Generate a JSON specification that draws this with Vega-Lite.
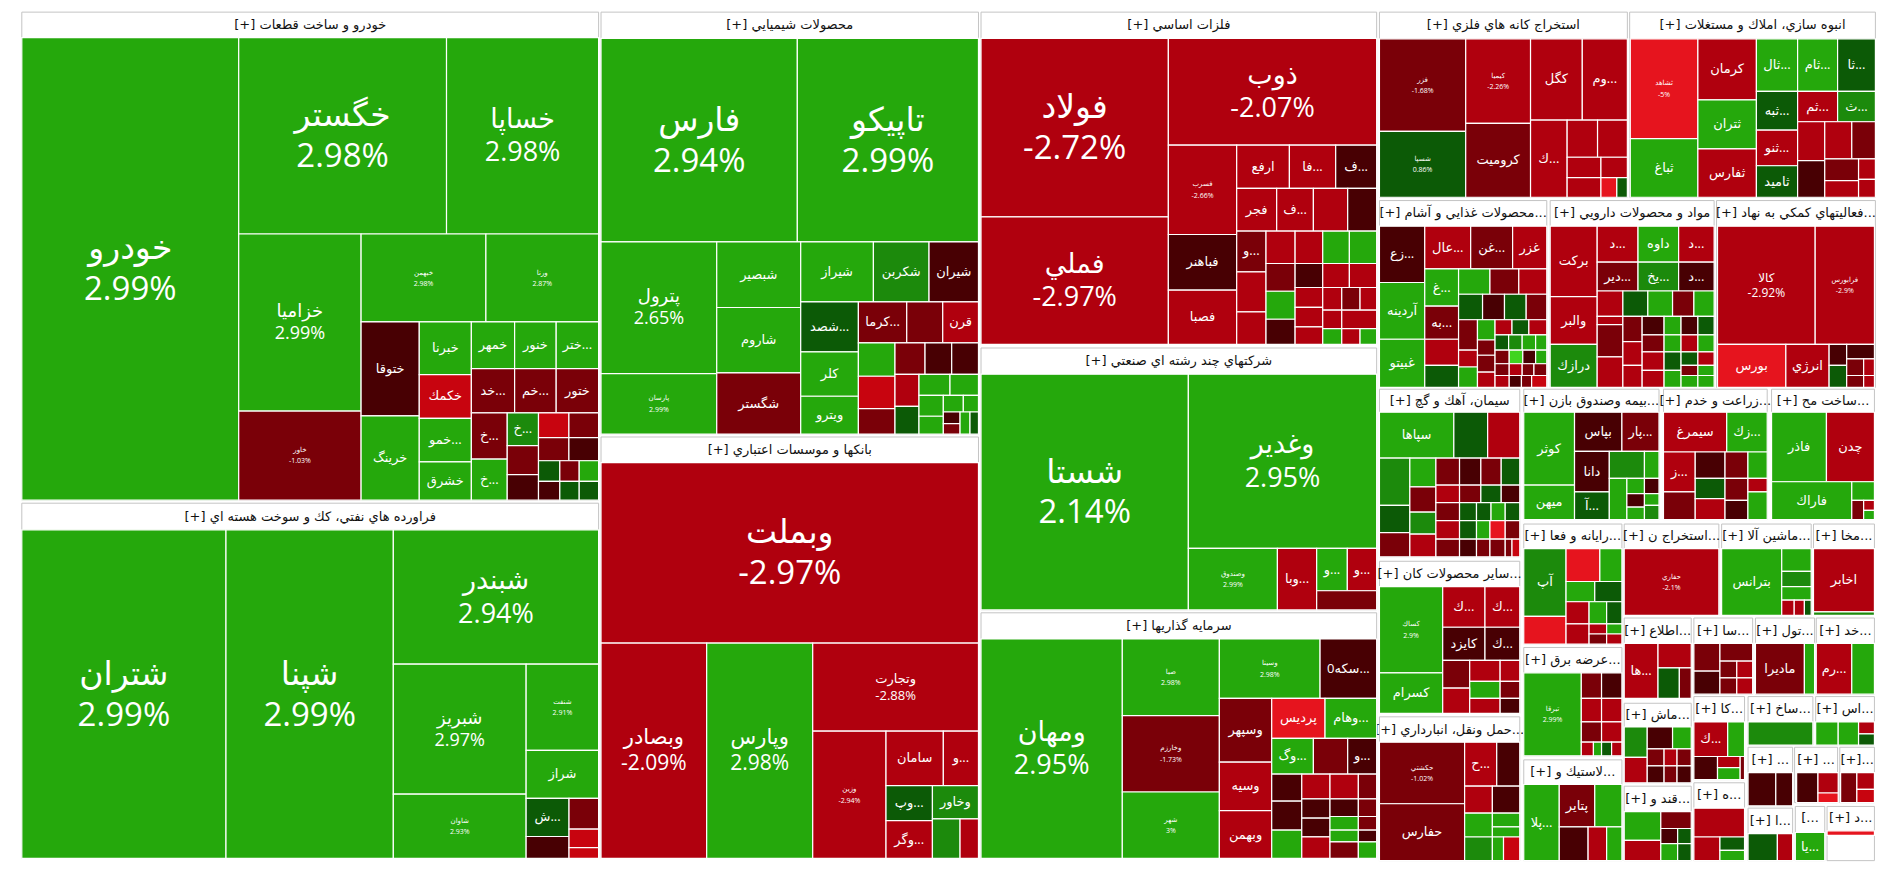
{
"$schema":"https://vega.github.io/schema/vega-lite/v6.json",
"width":1900,"height":873,"padding":0,"autosize":{"type":"none"},
"background":"white",
"config":{"view":{"stroke":null}},
"datasets":{
"sectors":[
{"x":18,"x2":494,"y":10,"yh":31,"y2":412.5,"h":"[+] خودرو و ساخت قطعات"},
{"x":18,"x2":494,"y":415,"yh":437,"y2":708,"h":"[+] فراورده هاي نفتي، كك و سوخت هسته اي"},
{"x":496,"x2":807.5,"y":10,"yh":31.6,"y2":358,"h":"[+] محصولات شيميايي"},
{"x":496,"x2":807.5,"y":360.4,"yh":381.6,"y2":708,"h":"[+] بانكها و موسسات اعتباري"},
{"x":809.6,"x2":1136.1,"y":10,"yh":31.6,"y2":284,"h":"[+] فلزات اساسي"},
{"x":809.6,"x2":1136.1,"y":287,"yh":308.6,"y2":503,"h":"[+] شركتهاي چند رشته اي صنعتي"},
{"x":809.6,"x2":1136.1,"y":505.4,"yh":527,"y2":708,"h":"[+] سرمايه گذاريها"},
{"x":1138.4,"x2":1343,"y":10,"yh":32,"y2":162.7,"h":"[+] استخراج كانه هاي فلزي"},
{"x":1344.9,"x2":1547.7,"y":10,"yh":32,"y2":162.7,"h":"[+] انبوه سازي، املاك و مستغلات"},
{"x":1138.4,"x2":1276.5,"y":165.4,"yh":186.5,"y2":319.5,"h":"[+] محصولات غذايي و آشام..."},
{"x":1279.3,"x2":1414.6,"y":165.4,"yh":186.5,"y2":319.5,"h":"[+] مواد و محصولات دارويي"},
{"x":1416.6,"x2":1547.7,"y":165.4,"yh":186.5,"y2":319.5,"h":"[+] فعاليتهاي كمكي به نهاد..."},
{"x":1138.4,"x2":1254.2,"y":321,"yh":340,"y2":459.2,"h":"[+] سيمان، آهك و گچ"},
{"x":1257.5,"x2":1369.1,"y":321,"yh":340,"y2":428.5,"h":"[+] بيمه وصندوق بازن..."},
{"x":1372.8,"x2":1458.4,"y":321,"yh":340,"y2":428.5,"h":"[+] زراعت و خدم..."},
{"x":1462,"x2":1546.9,"y":321,"yh":340,"y2":428.5,"h":"[+] ساخت مح..."},
{"x":1257.5,"x2":1338.5,"y":432.2,"yh":452.5,"y2":531.2,"h":"[+] رايانه و فعا..."},
{"x":1340.4,"x2":1418.5,"y":432.2,"yh":452.5,"y2":507.5,"h":"[+] استخراج ن..."},
{"x":1420.8,"x2":1494.7,"y":432.2,"yh":452.5,"y2":507.5,"h":"[+] ماشين آلا..."},
{"x":1496.6,"x2":1546.9,"y":432.2,"yh":452.5,"y2":507.5,"h":"[+] مخا..."},
{"x":1138.4,"x2":1254.2,"y":462.9,"yh":483.8,"y2":588.4,"h":"[+] ساير محصولات كان..."},
{"x":1138.4,"x2":1254.2,"y":591.2,"yh":612.1,"y2":709.8,"h":"[+] حمل ونقل، انبارداري..."},
{"x":1257.5,"x2":1338.5,"y":534,"yh":554.9,"y2":623.3,"h":"[+] عرضه برق..."},
{"x":1257.5,"x2":1338.5,"y":626.7,"yh":647,"y2":709.8,"h":"[+] لاستيك و..."},
{"x":1340.4,"x2":1395.7,"y":509.7,"yh":530.7,"y2":576,"h":"[+] اطلاع..."},
{"x":1340.4,"x2":1395.7,"y":580,"yh":599.6,"y2":645.6,"h":"[+] ماش..."},
{"x":1340.4,"x2":1395.7,"y":648.4,"yh":669.3,"y2":709.8,"h":"[+] قند و..."},
{"x":1397.9,"x2":1446.4,"y":509.7,"yh":530.7,"y2":572.5,"h":"[+] سا..."},
{"x":1448.7,"x2":1497.5,"y":509.7,"yh":530.7,"y2":572.5,"h":"[+] تول..."},
{"x":1498.9,"x2":1546.9,"y":509.7,"yh":530.7,"y2":572.5,"h":"[+] خد..."},
{"x":1397.9,"x2":1439.7,"y":574.5,"yh":595.4,"y2":643,"h":"[+] كا..."},
{"x":1442.6,"x2":1496.1,"y":574.5,"yh":595.4,"y2":614.5,"h":"[+] ساخ..."},
{"x":1498.4,"x2":1546.9,"y":574.5,"yh":595.4,"y2":614.5,"h":"[+] اس..."},
{"x":1397.9,"x2":1439.7,"y":645.6,"yh":666.5,"y2":709.8,"h":"[+] ه..."},
{"x":1442.6,"x2":1479.4,"y":616.3,"yh":637.2,"y2":664.6,"h":"[+] ..."},
{"x":1481,"x2":1516.5,"y":616.3,"yh":637.2,"y2":662,"h":"[+] ..."},
{"x":1518.3,"x2":1546.9,"y":616.3,"yh":637.2,"y2":662,"h":"[+]..."},
{"x":1442.6,"x2":1479.4,"y":666.5,"yh":687.5,"y2":709.8,"h":"[+] ا..."},
{"x":1481.6,"x2":1505.9,"y":665.1,"yh":684.7,"y2":709.8,"h":"[..."},
{"x":1507.8,"x2":1546.9,"y":665.1,"yh":684.7,"y2":709.8,"h":"[+] د..."}
],
"cells":[
{"x":18,"x2":197,"y":31,"y2":412.5,"c":2.99,"s":"خودرو","t":1,"p":1},
{"x":197,"x2":368.5,"y":31,"y2":193,"c":2.98,"s":"خگستر","t":1,"p":1},
{"x":368.5,"x2":494,"y":31,"y2":193,"c":2.98,"s":"خساپا","t":2,"p":1},
{"x":197,"x2":298,"y":193,"y2":339,"c":2.99,"s":"خزاميا","t":4,"p":1},
{"x":197,"x2":298,"y":339,"y2":412.5,"c":-1.03,"s":"خاور","t":6,"p":1},
{"x":298,"x2":401,"y":193,"y2":265.5,"c":2.98,"s":"خبهمن","t":6,"p":1},
{"x":401,"x2":494,"y":193,"y2":265.5,"c":2.87,"s":"ورنا","t":6,"p":1},
{"x":298,"x2":346,"y":265.5,"y2":343,"c":-0.4,"s":"ختوقا","t":5},
{"x":298,"x2":346,"y":343,"y2":412.5,"c":2.9,"s":"خرينگ","t":5},
{"x":346,"x2":389,"y":265.5,"y2":309,"c":2.9,"s":"خبرنا","t":5},
{"x":389,"x2":424.7,"y":265.5,"y2":304,"c":2.9,"s":"خمهر","t":5},
{"x":424.7,"x2":459,"y":265.5,"y2":304,"c":2.9,"s":"خنور","t":5},
{"x":459,"x2":494,"y":265.5,"y2":304,"c":2.9,"s":"ختر...","t":5},
{"x":346,"x2":389,"y":309,"y2":345,"c":-3.8,"s":"خكمك","t":5},
{"x":389,"x2":424.7,"y":304,"y2":340.5,"c":-1.5,"s":"خد...","t":5},
{"x":424.7,"x2":459,"y":304,"y2":340.5,"c":-1.5,"s":"خم...","t":5},
{"x":459,"x2":494,"y":304,"y2":340.5,"c":-1.6,"s":"ختور","t":5},
{"x":346,"x2":389,"y":345,"y2":381,"c":2.9,"s":"خمو...","t":5},
{"x":346,"x2":389,"y":381,"y2":412.5,"c":2.9,"s":"خشرق","t":5},
{"x":389,"x2":418.6,"y":340.5,"y2":378.6,"c":-1.4,"s":"خ...","t":5},
{"x":389,"x2":418.6,"y":378.6,"y2":412.5,"c":2.9,"s":"خ...","t":5},
{"x":418.6,"x2":444.4,"y":340.5,"y2":367.5,"c":1.5,"s":"خ...","t":5},
{"x":444.4,"x2":469.5,"y":340.5,"y2":361,"c":-3.8},
{"x":469.5,"x2":494,"y":340.5,"y2":361,"c":-1.7},
{"x":418.6,"x2":444.4,"y":367.5,"y2":391.5,"c":-1.6},
{"x":418.6,"x2":444.4,"y":391.5,"y2":412.5,"c":-0.4},
{"x":444.4,"x2":469.5,"y":361,"y2":380,"c":-1.5},
{"x":469.5,"x2":494,"y":361,"y2":380,"c":-0.4},
{"x":444.4,"x2":462,"y":380,"y2":397,"c":0.6},
{"x":462,"x2":478,"y":380,"y2":397,"c":-1.6},
{"x":478,"x2":494,"y":380,"y2":397,"c":2.9},
{"x":444.4,"x2":462,"y":397,"y2":412.5,"c":-0.4},
{"x":462,"x2":478,"y":397,"y2":412.5,"c":0.6},
{"x":478,"x2":494,"y":397,"y2":412.5,"c":0.6},

{"x":18,"x2":186.5,"y":437,"y2":708,"c":2.99,"s":"شتران","t":1,"p":1},
{"x":186.5,"x2":324.6,"y":437,"y2":708,"c":2.99,"s":"شپنا","t":1,"p":1},
{"x":324.6,"x2":494,"y":437,"y2":547.8,"c":2.94,"s":"شبندر","t":2,"p":1},
{"x":324.6,"x2":434.2,"y":547.8,"y2":655,"c":2.97,"s":"شبريز","t":4,"p":1},
{"x":324.6,"x2":434.2,"y":655,"y2":708,"c":2.93,"s":"شاوان","t":6,"p":1},
{"x":434.2,"x2":494,"y":547.8,"y2":618.9,"c":2.91,"s":"شنفت","t":6,"p":1},
{"x":434.2,"x2":494,"y":618.9,"y2":658.4,"c":2.9,"s":"شراز","t":5},
{"x":434.2,"x2":469.6,"y":658.4,"y2":689.9,"c":0.6,"s":"ش...","t":5},
{"x":469.6,"x2":494,"y":658.4,"y2":683.8,"c":-1.5},
{"x":434.2,"x2":469.6,"y":689.9,"y2":708,"c":-0.4},
{"x":469.6,"x2":494,"y":683.8,"y2":699,"c":-3.8},
{"x":469.6,"x2":494,"y":699,"y2":708,"c":-3.8},

{"x":496,"x2":658,"y":31.6,"y2":199.5,"c":2.94,"s":"فارس","t":1,"p":1},
{"x":658,"x2":807.5,"y":31.6,"y2":199.5,"c":2.99,"s":"تاپيكو","t":1,"p":1},
{"x":496,"x2":591.5,"y":199.5,"y2":308.1,"c":2.65,"s":"پترول","t":4,"p":1},
{"x":496,"x2":591.5,"y":308.1,"y2":358,"c":2.99,"s":"پارسان","t":6,"p":1},
{"x":591.5,"x2":660.8,"y":199.5,"y2":253.6,"c":2.9,"s":"شبصير","t":5},
{"x":591.5,"x2":660.8,"y":253.6,"y2":307.6,"c":2.9,"s":"شاروم","t":5},
{"x":591.5,"x2":660.8,"y":307.6,"y2":358,"c":-1.5,"s":"شگستر","t":5},
{"x":660.8,"x2":720.8,"y":199.5,"y2":249,"c":2.9,"s":"شيراز","t":5},
{"x":720.8,"x2":766.7,"y":199.5,"y2":249,"c":1.5,"s":"شكربن","t":5},
{"x":766.7,"x2":807.5,"y":199.5,"y2":249,"c":-0.5,"s":"شيران","t":5},
{"x":660.8,"x2":708.4,"y":249,"y2":290.2,"c":0.6,"s":"شصد...","t":5},
{"x":660.8,"x2":708.4,"y":290.2,"y2":326.8,"c":2.9,"s":"كلر","t":5},
{"x":660.8,"x2":708.4,"y":326.8,"y2":358,"c":2.9,"s":"ويترو","t":5},
{"x":708.4,"x2":748.3,"y":249,"y2":282.8,"c":-1.4,"s":"كرما...","t":5},
{"x":748.3,"x2":778,"y":249,"y2":282.8,"c":-1.6},
{"x":778,"x2":807.5,"y":249,"y2":282.8,"c":-3,"s":"قرن","t":5},
{"x":708.4,"x2":738.6,"y":282.8,"y2":310.3,"c":2.9},
{"x":708.4,"x2":738.6,"y":310.3,"y2":337,"c":-3.8},
{"x":708.4,"x2":738.6,"y":337,"y2":358,"c":-1.5},
{"x":738.6,"x2":763.4,"y":282.8,"y2":308.7,"c":-1.5},
{"x":738.6,"x2":758.4,"y":308.7,"y2":335.1,"c":-2.9},
{"x":738.6,"x2":758.4,"y":335.1,"y2":358,"c":0.6},
{"x":763.4,"x2":785.4,"y":282.8,"y2":308.7,"c":-0.5},
{"x":785.4,"x2":807.5,"y":282.8,"y2":308.7,"c":-0.5},
{"x":758.4,"x2":784,"y":308.7,"y2":326,"c":2.9},
{"x":784,"x2":807.5,"y":308.7,"y2":326,"c":2.9},
{"x":758.4,"x2":778.5,"y":326,"y2":343.3,"c":2.9},
{"x":778.5,"x2":795,"y":326,"y2":339.8,"c":2.9},
{"x":795,"x2":807.5,"y":326,"y2":339.8,"c":2.9},
{"x":758.4,"x2":778.5,"y":343.3,"y2":358,"c":2.9},
{"x":778.5,"x2":792.3,"y":339.8,"y2":349.4,"c":-0.5},
{"x":778.5,"x2":792.3,"y":349.4,"y2":358,"c":-1.5},
{"x":792.3,"x2":800.5,"y":339.8,"y2":358,"c":2.9},
{"x":800.5,"x2":807.5,"y":339.8,"y2":358,"c":0.6},

{"x":496,"x2":807.5,"y":381.6,"y2":530.4,"c":-2.97,"s":"وبملت","t":1,"p":1},
{"x":496,"x2":583.2,"y":530.4,"y2":708,"c":-2.09,"s":"وبصادر","t":3,"p":1},
{"x":583.2,"x2":670.7,"y":530.4,"y2":708,"c":2.98,"s":"وپارس","t":3,"p":1},
{"x":670.7,"x2":807.5,"y":530.4,"y2":603,"c":-2.88,"s":"وتجارت","t":5,"p":1},
{"x":670.7,"x2":731.2,"y":603,"y2":708,"c":-2.94,"s":"وزين","t":6,"p":1},
{"x":731.2,"x2":778.5,"y":603,"y2":647.9,"c":-2.9,"s":"سامان","t":5},
{"x":778.5,"x2":807.5,"y":603,"y2":647.9,"c":-2.9,"s":"و...","t":5},
{"x":731.2,"x2":769.5,"y":647.9,"y2":676.8,"c":0.6,"s":"وپ...","t":5},
{"x":769.5,"x2":807.5,"y":647.9,"y2":675.4,"c":1.5,"s":"وخاور","t":5},
{"x":731.2,"x2":769.5,"y":676.8,"y2":708,"c":-2.9,"s":"وگر...","t":5},
{"x":769.5,"x2":792.3,"y":675.4,"y2":708,"c":1.5},
{"x":792.3,"x2":807.5,"y":675.4,"y2":708,"c":-2.9},

{"x":809.6,"x2":964.2,"y":31.6,"y2":178.8,"c":-2.72,"s":"فولاد","t":1,"p":1},
{"x":809.6,"x2":964.2,"y":178.8,"y2":284,"c":-2.97,"s":"فملي","t":2,"p":1},
{"x":964.2,"x2":1136.1,"y":31.6,"y2":119.7,"c":-2.07,"s":"ذوب","t":2,"p":1},
{"x":964.2,"x2":1020.6,"y":119.7,"y2":193.4,"c":-2.66,"s":"فسرب","t":6,"p":1},
{"x":964.2,"x2":1020.6,"y":193.4,"y2":239.3,"c":-0.5,"s":"فباهنر","t":5},
{"x":964.2,"x2":1020.6,"y":239.3,"y2":284,"c":-2.9,"s":"فصبا","t":5},
{"x":1020.6,"x2":1064.1,"y":119.7,"y2":155.4,"c":-2.9,"s":"ارفع","t":5},
{"x":1064.1,"x2":1102.3,"y":119.7,"y2":155.4,"c":-2.9,"s":"فا...","t":5},
{"x":1102.3,"x2":1136.1,"y":119.7,"y2":155.4,"c":-0.5,"s":"ف...","t":5},
{"x":1020.6,"x2":1053.6,"y":155.4,"y2":190.6,"c":-2.9,"s":"فجر","t":5},
{"x":1053.6,"x2":1083.9,"y":155.4,"y2":190.6,"c":-2.9,"s":"ف...","t":5},
{"x":1083.9,"x2":1112.2,"y":155.4,"y2":190.6,"c":-2.9},
{"x":1112.2,"x2":1136.1,"y":155.4,"y2":190.6,"c":-0.5},
{"x":1020.6,"x2":1044.8,"y":190.6,"y2":224.2,"c":-1.4,"s":"و...","t":5},
{"x":1020.6,"x2":1044.8,"y":224.2,"y2":257.2,"c":-2.9},
{"x":1020.6,"x2":1044.8,"y":257.2,"y2":284,"c":-2.9},
{"x":1044.8,"x2":1068.8,"y":190.6,"y2":217.3,"c":-2.9},
{"x":1044.8,"x2":1068.8,"y":217.3,"y2":240.2,"c":-1.5},
{"x":1044.8,"x2":1068.8,"y":240.2,"y2":263.3,"c":2.9},
{"x":1044.8,"x2":1068.8,"y":263.3,"y2":284,"c":-0.5},
{"x":1068.8,"x2":1091.6,"y":190.6,"y2":217.3,"c":-2.9},
{"x":1068.8,"x2":1091.6,"y":217.3,"y2":237.1,"c":-0.5},
{"x":1068.8,"x2":1091.6,"y":237.1,"y2":253.5,"c":-2.9},
{"x":1068.8,"x2":1091.6,"y":253.5,"y2":269.6,"c":-2.9},
{"x":1068.8,"x2":1091.6,"y":269.6,"y2":284,"c":-2.9},
{"x":1091.6,"x2":1113.6,"y":190.6,"y2":217.3,"c":2.9},
{"x":1113.6,"x2":1136.1,"y":190.6,"y2":217.3,"c":2.9},
{"x":1091.6,"x2":1113.6,"y":217.3,"y2":237.1,"c":-2.9},
{"x":1113.6,"x2":1136.1,"y":217.3,"y2":237.1,"c":-2.9},
{"x":1091.6,"x2":1107.3,"y":237.1,"y2":255.8,"c":-2.9},
{"x":1107.3,"x2":1122.4,"y":237.1,"y2":255.8,"c":-1.5},
{"x":1122.4,"x2":1136.1,"y":237.1,"y2":255.8,"c":-2.9},
{"x":1091.6,"x2":1107.3,"y":255.8,"y2":271,"c":-2.9},
{"x":1107.3,"x2":1136.1,"y":255.8,"y2":271,"c":-2.9},
{"x":1091.6,"x2":1107.3,"y":271,"y2":284,"c":2.9},
{"x":1107.3,"x2":1122.4,"y":271,"y2":284,"c":-2.9},
{"x":1122.4,"x2":1136.1,"y":271,"y2":284,"c":2.9},

{"x":809.6,"x2":980.7,"y":308.6,"y2":503,"c":2.14,"s":"شستا","t":1,"p":1},
{"x":980.7,"x2":1136.1,"y":308.6,"y2":452.2,"c":2.95,"s":"وغدير","t":2,"p":1},
{"x":980.7,"x2":1054.2,"y":452.2,"y2":503,"c":2.99,"s":"وصندوق","t":6,"p":1},
{"x":1054.2,"x2":1086.6,"y":452.2,"y2":503,"c":-3,"s":"وبا...","t":5},
{"x":1086.6,"x2":1111.9,"y":452.2,"y2":487.2,"c":2.9,"s":"و...","t":5},
{"x":1111.9,"x2":1136.1,"y":452.2,"y2":487.2,"c":-2.9,"s":"و...","t":5},
{"x":1086.6,"x2":1136.1,"y":487.2,"y2":503,"c":-1.5},

{"x":809.6,"x2":926.2,"y":527,"y2":708,"c":2.95,"s":"ومهان","t":2,"p":1},
{"x":926.2,"x2":1006.3,"y":527,"y2":590.2,"c":2.98,"s":"صبا","t":6,"p":1},
{"x":926.2,"x2":1006.3,"y":590.2,"y2":653.2,"c":-1.73,"s":"وخارزم","t":6,"p":1},
{"x":926.2,"x2":1006.3,"y":653.2,"y2":708,"c":3,"s":"شهر","t":6,"p":1},
{"x":1006.3,"x2":1089.4,"y":527,"y2":576,"c":2.98,"s":"وسينا","t":6,"p":1},
{"x":1089.4,"x2":1136.1,"y":527,"y2":576,"c":-0.5,"s":"سكه0...","t":5},
{"x":1006.3,"x2":1049.5,"y":576,"y2":628.6,"c":-1.5,"s":"وسپهر","t":5},
{"x":1006.3,"x2":1049.5,"y":628.6,"y2":668.6,"c":-2.9,"s":"وسيه","t":5},
{"x":1006.3,"x2":1049.5,"y":668.6,"y2":708,"c":-2.9,"s":"وبهمن","t":5},
{"x":1049.5,"x2":1093.5,"y":576,"y2":609,"c":-4.8,"s":"پرديس","t":5},
{"x":1093.5,"x2":1136.1,"y":576,"y2":609,"c":2.9,"s":"وهام...","t":5},
{"x":1049.5,"x2":1083.9,"y":609,"y2":638.4,"c":2.9,"s":"وگ...","t":5},
{"x":1083.9,"x2":1112.2,"y":609,"y2":638.4,"c":-1.5},
{"x":1112.2,"x2":1136.1,"y":609,"y2":638.4,"c":-0.5,"s":"و...","t":5},
{"x":1049.5,"x2":1074.3,"y":638.4,"y2":660.8,"c":-0.5},
{"x":1049.5,"x2":1074.3,"y":660.8,"y2":684.6,"c":-0.5},
{"x":1049.5,"x2":1074.3,"y":684.6,"y2":708,"c":2.9},
{"x":1074.3,"x2":1097.6,"y":638.4,"y2":658.8,"c":-2.9},
{"x":1074.3,"x2":1097.6,"y":658.8,"y2":674.8,"c":-0.5},
{"x":1074.3,"x2":1097.6,"y":674.8,"y2":690.2,"c":-0.7},
{"x":1074.3,"x2":1097.6,"y":690.2,"y2":708,"c":-2.9},
{"x":1097.6,"x2":1121,"y":638.4,"y2":658.8,"c":-2.9},
{"x":1097.6,"x2":1121,"y":658.8,"y2":673.4,"c":-0.5},
{"x":1097.6,"x2":1121,"y":673.4,"y2":684.6,"c":2.9},
{"x":1097.6,"x2":1121,"y":684.6,"y2":694.4,"c":2.9},
{"x":1097.6,"x2":1121,"y":694.4,"y2":708,"c":-1.5},
{"x":1121,"x2":1136.1,"y":638.4,"y2":658.8,"c":-1.5},
{"x":1121,"x2":1136.1,"y":658.8,"y2":673.4,"c":-1.5},
{"x":1121,"x2":1136.1,"y":673.4,"y2":684.6,"c":-1.5},
{"x":1121,"x2":1136.1,"y":684.6,"y2":694.4,"c":-0.5},
{"x":1121,"x2":1136.1,"y":694.4,"y2":708,"c":2.9},

{"x":1138.4,"x2":1209.6,"y":32,"y2":108.3,"c":-1.68,"s":"فزر","t":6,"p":1},
{"x":1138.4,"x2":1209.6,"y":108.3,"y2":162.7,"c":0.86,"s":"شسپا","t":6,"p":1},
{"x":1209.6,"x2":1263.1,"y":32,"y2":101.8,"c":-2.26,"s":"كيميا","t":6,"p":1},
{"x":1263.1,"x2":1305.8,"y":32,"y2":99,"c":-2.9,"s":"كگل","t":5},
{"x":1305.8,"x2":1343,"y":32,"y2":99,"c":-2.9,"s":"وم...","t":5},
{"x":1209.6,"x2":1263.1,"y":101.8,"y2":162.7,"c":-1.5,"s":"كروميت","t":5},
{"x":1263.1,"x2":1293.3,"y":99,"y2":162.7,"c":-2.9,"s":"ك...","t":5},
{"x":1293.3,"x2":1318.4,"y":99,"y2":129.7,"c":-2.9},
{"x":1318.4,"x2":1343,"y":99,"y2":129.7,"c":-2.9},
{"x":1293.3,"x2":1321.2,"y":129.7,"y2":146.5,"c":-2.9},
{"x":1321.2,"x2":1343,"y":129.7,"y2":146.5,"c":-2.9},
{"x":1293.3,"x2":1321.2,"y":146.5,"y2":162.7,"c":-2.9},
{"x":1321.2,"x2":1334.3,"y":146.5,"y2":162.7,"c":-4.8},
{"x":1334.3,"x2":1343,"y":146.5,"y2":162.7,"c":0.6},

{"x":1345.4,"x2":1401.2,"y":32,"y2":114.4,"c":-5,"s":"ثشاهد","t":6,"p":1},
{"x":1345.4,"x2":1401.2,"y":114.4,"y2":162.7,"c":3.2,"s":"ثباغ","t":5},
{"x":1401.2,"x2":1449.5,"y":32,"y2":82.3,"c":-2.9,"s":"كرمان","t":5},
{"x":1401.2,"x2":1449.5,"y":82.3,"y2":122.8,"c":3.2,"s":"ثتران","t":5},
{"x":1401.2,"x2":1449.5,"y":122.8,"y2":162.7,"c":-2.9,"s":"ثفارس","t":5},
{"x":1449.5,"x2":1483.5,"y":32,"y2":75.3,"c":3.3,"s":"ثال...","t":5},
{"x":1483.5,"x2":1516.5,"y":32,"y2":75.3,"c":3.3,"s":"ثام...","t":5},
{"x":1516.5,"x2":1547.7,"y":32,"y2":75.3,"c":0.6,"s":"ثا...","t":5},
{"x":1449.5,"x2":1483.5,"y":75.3,"y2":107.4,"c":0.6,"s":"ثبه...","t":5},
{"x":1449.5,"x2":1483.5,"y":107.4,"y2":136.7,"c":-2.9,"s":"ثنو...","t":5},
{"x":1449.5,"x2":1483.5,"y":136.7,"y2":162.7,"c":0.6,"s":"ثاميد","t":5},
{"x":1483.5,"x2":1516.5,"y":75.3,"y2":100.4,"c":-2.9,"s":"ثم...","t":5},
{"x":1516.5,"x2":1547.7,"y":75.3,"y2":100.4,"c":1.5,"s":"ث...","t":5},
{"x":1483.5,"x2":1505.9,"y":100.4,"y2":132.5,"c":-2.9},
{"x":1505.9,"x2":1528.2,"y":100.4,"y2":131,"c":-2.9},
{"x":1528.2,"x2":1547.7,"y":100.4,"y2":131,"c":-1.5},
{"x":1483.5,"x2":1505.9,"y":132.5,"y2":162.7,"c":-0.5},
{"x":1505.9,"x2":1533.8,"y":131,"y2":149,"c":-1.5},
{"x":1533.8,"x2":1547.7,"y":131,"y2":148,"c":-2.9},
{"x":1505.9,"x2":1533.8,"y":149,"y2":162.7,"c":-2.9},
{"x":1533.8,"x2":1547.7,"y":148,"y2":162.7,"c":-2.9},

{"x":1138.4,"x2":1175.8,"y":186.5,"y2":233,"c":-0.5,"s":"زع...","t":5},
{"x":1138.4,"x2":1175.8,"y":233,"y2":279.8,"c":2.9,"s":"آردينه","t":5},
{"x":1138.4,"x2":1175.8,"y":279.8,"y2":319.5,"c":2.9,"s":"غبيتو","t":5},
{"x":1175.8,"x2":1213.7,"y":186.5,"y2":221.8,"c":-2.9,"s":"عال...","t":5},
{"x":1213.7,"x2":1248.3,"y":186.5,"y2":221.8,"c":-1.5,"s":"غن...","t":5},
{"x":1248.3,"x2":1276.5,"y":186.5,"y2":221.8,"c":-2.9,"s":"غزر","t":5},
{"x":1175.8,"x2":1203.7,"y":221.8,"y2":252.5,"c":2.9,"s":"غ...","t":5},
{"x":1175.8,"x2":1203.7,"y":252.5,"y2":279.8,"c":-1.5,"s":"به...","t":5},
{"x":1175.8,"x2":1203.7,"y":279.8,"y2":301.3,"c":-2.9},
{"x":1175.8,"x2":1203.7,"y":301.3,"y2":319.5,"c":0.6},
{"x":1203.7,"x2":1229.6,"y":221.8,"y2":242.7,"c":2.9},
{"x":1229.6,"x2":1253.4,"y":221.8,"y2":242.7,"c":-1.5},
{"x":1253.4,"x2":1276.5,"y":221.8,"y2":242.7,"c":-2.9},
{"x":1203.7,"x2":1223.5,"y":242.7,"y2":263.7,"c":0.6},
{"x":1223.5,"x2":1241.6,"y":242.7,"y2":263.7,"c":-0.5},
{"x":1241.6,"x2":1259.5,"y":242.7,"y2":263.7,"c":0.6},
{"x":1259.5,"x2":1276.5,"y":242.7,"y2":263.7,"c":-1.5},
{"x":1203.7,"x2":1219.3,"y":263.7,"y2":288.8,"c":-1.5},
{"x":1203.7,"x2":1219.3,"y":288.8,"y2":302.7,"c":-2.9},
{"x":1203.7,"x2":1219.3,"y":302.7,"y2":319.5,"c":2.9},
{"x":1219.3,"x2":1233.8,"y":263.7,"y2":280.4,"c":2.9},
{"x":1219.3,"x2":1233.8,"y":280.4,"y2":293,"c":-1.5},
{"x":1219.3,"x2":1233.8,"y":293,"y2":306.9,"c":-1.5},
{"x":1219.3,"x2":1233.8,"y":306.9,"y2":319.5,"c":-2.9},
{"x":1233.8,"x2":1247.8,"y":263.7,"y2":276.2,"c":-2.9},
{"x":1247.8,"x2":1261.7,"y":263.7,"y2":276.2,"c":0.6},
{"x":1261.7,"x2":1276.5,"y":263.7,"y2":276.2,"c":-2.9},
{"x":1233.8,"x2":1245,"y":276.2,"y2":288.8,"c":0.6},
{"x":1245,"x2":1256.2,"y":276.2,"y2":288.8,"c":1.5},
{"x":1256.2,"x2":1267.3,"y":276.2,"y2":288.8,"c":2.9},
{"x":1267.3,"x2":1276.5,"y":276.2,"y2":288.8,"c":2.9},
{"x":1233.8,"x2":1245.5,"y":288.8,"y2":300,"c":-1.5},
{"x":1245.5,"x2":1256.7,"y":288.8,"y2":300,"c":4.8},
{"x":1256.7,"x2":1267.3,"y":288.8,"y2":300,"c":-0.5},
{"x":1267.3,"x2":1276.5,"y":288.8,"y2":300,"c":2.9},
{"x":1233.8,"x2":1245.5,"y":300,"y2":309.7,"c":-1.5},
{"x":1245.5,"x2":1256.2,"y":300,"y2":309.7,"c":-2.9},
{"x":1256.2,"x2":1265.9,"y":300,"y2":309.7,"c":-1.5},
{"x":1265.9,"x2":1276.5,"y":300,"y2":309.7,"c":-1.5},
{"x":1233.8,"x2":1245.5,"y":309.7,"y2":319.5,"c":-2.9},
{"x":1245.5,"x2":1255.6,"y":309.7,"y2":319.5,"c":-0.5},
{"x":1255.6,"x2":1264,"y":309.7,"y2":319.5,"c":-1.5},
{"x":1264,"x2":1276.5,"y":309.7,"y2":319.5,"c":-3.8},

{"x":1279.3,"x2":1318.1,"y":186.5,"y2":244.7,"c":-2.9,"s":"بركت","t":5},
{"x":1279.3,"x2":1318.1,"y":244.7,"y2":284,"c":-2.9,"s":"والبر","t":5},
{"x":1279.3,"x2":1318.1,"y":284,"y2":319.5,"c":1.5,"s":"درازك","t":5},
{"x":1318.1,"x2":1351.8,"y":186.5,"y2":216.2,"c":-2.9,"s":"د...","t":5},
{"x":1351.8,"x2":1385.3,"y":186.5,"y2":216.2,"c":2.9,"s":"داوه","t":5},
{"x":1385.3,"x2":1414.6,"y":186.5,"y2":216.2,"c":-2.9,"s":"د...","t":5},
{"x":1318.1,"x2":1351.8,"y":216.2,"y2":240,"c":-1.5,"s":"دير...","t":5},
{"x":1351.8,"x2":1385.3,"y":216.2,"y2":240,"c":1.5,"s":"يخ...","t":5},
{"x":1385.3,"x2":1414.6,"y":216.2,"y2":240,"c":-0.5,"s":"د...","t":5},
{"x":1318.1,"x2":1339.3,"y":240,"y2":260.9,"c":-2.9},
{"x":1339.3,"x2":1359.9,"y":240,"y2":260.9,"c":0.6},
{"x":1359.9,"x2":1380.3,"y":240,"y2":260.9,"c":2.9},
{"x":1380.3,"x2":1397.9,"y":240,"y2":260.9,"c":-1.5},
{"x":1397.9,"x2":1414.6,"y":240,"y2":260.9,"c":2.9},
{"x":1318.1,"x2":1339.3,"y":260.9,"y2":267.8,"c":-2.9},
{"x":1318.1,"x2":1339.3,"y":267.8,"y2":294.3,"c":-1.5},
{"x":1318.1,"x2":1339.3,"y":294.3,"y2":319.5,"c":-2.9},
{"x":1339.3,"x2":1355.2,"y":260.9,"y2":281.8,"c":-1.5},
{"x":1339.3,"x2":1355.2,"y":281.8,"y2":301.3,"c":-2.9},
{"x":1339.3,"x2":1355.2,"y":301.3,"y2":319.5,"c":-2.9},
{"x":1355.2,"x2":1373.3,"y":260.9,"y2":276.2,"c":-0.5},
{"x":1355.2,"x2":1373.3,"y":276.2,"y2":290.2,"c":-1.5},
{"x":1355.2,"x2":1373.3,"y":290.2,"y2":305.5,"c":-2.9},
{"x":1355.2,"x2":1373.3,"y":305.5,"y2":319.5,"c":-2.9},
{"x":1373.3,"x2":1387.3,"y":260.9,"y2":276.2,"c":2.9},
{"x":1373.3,"x2":1387.3,"y":276.2,"y2":290.2,"c":2.9},
{"x":1373.3,"x2":1387.3,"y":290.2,"y2":305.5,"c":0.6},
{"x":1373.3,"x2":1387.3,"y":305.5,"y2":319.5,"c":2.9},
{"x":1387.3,"x2":1401.2,"y":260.9,"y2":276.2,"c":-0.5},
{"x":1387.3,"x2":1401.2,"y":276.2,"y2":290.2,"c":-2.9},
{"x":1387.3,"x2":1401.2,"y":290.2,"y2":301.3,"c":0.6},
{"x":1387.3,"x2":1401.2,"y":301.3,"y2":309.7,"c":-1.5},
{"x":1387.3,"x2":1401.2,"y":309.7,"y2":319.5,"c":2.9},
{"x":1401.2,"x2":1414.6,"y":260.9,"y2":276.2,"c":0.6},
{"x":1401.2,"x2":1414.6,"y":276.2,"y2":290.2,"c":2.9},
{"x":1401.2,"x2":1414.6,"y":290.2,"y2":301.3,"c":-2.9},
{"x":1401.2,"x2":1414.6,"y":301.3,"y2":309.7,"c":2.9},
{"x":1401.2,"x2":1414.6,"y":309.7,"y2":319.5,"c":2.9},

{"x":1417.4,"x2":1498,"y":186.5,"y2":284,"c":-2.92,"s":"كالا","t":7,"p":1},
{"x":1498,"x2":1546.9,"y":186.5,"y2":284,"c":-2.9,"s":"فرابورس","t":6,"p":1},
{"x":1417.4,"x2":1473.8,"y":284,"y2":319.5,"c":-4.8,"s":"بورس","t":5},
{"x":1473.8,"x2":1509.5,"y":284,"y2":319.5,"c":-2.9,"s":"انرژي","t":5},
{"x":1509.5,"x2":1524,"y":284,"y2":301.3,"c":-0.5},
{"x":1509.5,"x2":1524,"y":301.3,"y2":319.5,"c":0.6},
{"x":1524,"x2":1546.9,"y":284,"y2":296,"c":-0.5},
{"x":1524,"x2":1538,"y":296,"y2":309.7,"c":-1.5},
{"x":1538,"x2":1546.9,"y":296,"y2":309.7,"c":-2.9},
{"x":1524,"x2":1538,"y":309.7,"y2":319.5,"c":-1.5},
{"x":1538,"x2":1546.9,"y":309.7,"y2":319.5,"c":-2.9},

{"x":1138.4,"x2":1199.8,"y":340,"y2":377.8,"c":2.9,"s":"سپاها","t":5},
{"x":1199.8,"x2":1227.7,"y":340,"y2":377.8,"c":0.6},
{"x":1227.7,"x2":1254.2,"y":340,"y2":377.8,"c":-2.9},
{"x":1138.4,"x2":1163.5,"y":377.8,"y2":416.8,"c":1.5},
{"x":1138.4,"x2":1163.5,"y":416.8,"y2":439.2,"c":0.6},
{"x":1138.4,"x2":1163.5,"y":439.2,"y2":459.2,"c":-1.5},
{"x":1163.5,"x2":1185,"y":377.8,"y2":401.5,"c":2.9},
{"x":1163.5,"x2":1185,"y":401.5,"y2":422.4,"c":-1.5},
{"x":1163.5,"x2":1185,"y":422.4,"y2":440.5,"c":1.5},
{"x":1163.5,"x2":1185,"y":440.5,"y2":459.2,"c":-2.9},
{"x":1185,"x2":1204.5,"y":377.8,"y2":400.1,"c":-1.5},
{"x":1204.5,"x2":1222.1,"y":377.8,"y2":400.1,"c":-0.5},
{"x":1222.1,"x2":1238.9,"y":377.8,"y2":400.1,"c":-1.5},
{"x":1238.9,"x2":1254.2,"y":377.8,"y2":400.1,"c":0.6},
{"x":1185,"x2":1204.5,"y":400.1,"y2":414.6,"c":-2.9},
{"x":1204.5,"x2":1222.1,"y":400.1,"y2":414.6,"c":-1.5},
{"x":1222.1,"x2":1238.9,"y":400.1,"y2":414.6,"c":0.6},
{"x":1238.9,"x2":1254.2,"y":400.1,"y2":414.6,"c":-0.5},
{"x":1185,"x2":1204.5,"y":414.6,"y2":429.4,"c":-1.5},
{"x":1204.5,"x2":1218.5,"y":414.6,"y2":429.4,"c":0.6},
{"x":1218.5,"x2":1230.5,"y":414.6,"y2":429.4,"c":0.6},
{"x":1230.5,"x2":1242.2,"y":414.6,"y2":429.4,"c":2.9},
{"x":1242.2,"x2":1254.2,"y":414.6,"y2":429.4,"c":0.6},
{"x":1185,"x2":1204.5,"y":429.4,"y2":444.7,"c":-2.9},
{"x":1204.5,"x2":1218.5,"y":429.4,"y2":444.7,"c":0.6},
{"x":1218.5,"x2":1229.6,"y":429.4,"y2":444.7,"c":2.9},
{"x":1229.6,"x2":1242.2,"y":429.4,"y2":444.7,"c":-4.8},
{"x":1242.2,"x2":1254.2,"y":429.4,"y2":444.7,"c":-1.5},
{"x":1185,"x2":1204.5,"y":444.7,"y2":459.2,"c":-1.5},
{"x":1204.5,"x2":1218.5,"y":444.7,"y2":459.2,"c":-0.5},
{"x":1218.5,"x2":1229.6,"y":444.7,"y2":459.2,"c":-1.5},
{"x":1229.6,"x2":1242.2,"y":444.7,"y2":459.2,"c":-1.5},
{"x":1242.2,"x2":1247.8,"y":444.7,"y2":459.2,"c":-1.5},
{"x":1247.8,"x2":1254.2,"y":444.7,"y2":459.2,"c":-3.8},

{"x":1257.5,"x2":1299.4,"y":340,"y2":400.1,"c":2.9,"s":"كوثر","t":5},
{"x":1257.5,"x2":1299.4,"y":400.1,"y2":428.5,"c":2.9,"s":"ميهن","t":5},
{"x":1299.4,"x2":1338.5,"y":340,"y2":372.2,"c":-0.5,"s":"بپاس","t":5},
{"x":1338.5,"x2":1369.1,"y":340,"y2":372.2,"c":-1.5,"s":"پار...","t":5},
{"x":1299.4,"x2":1328.1,"y":372.2,"y2":405.7,"c":-0.5,"s":"دانا","t":5},
{"x":1299.4,"x2":1328.1,"y":405.7,"y2":428.5,"c":0.6,"s":"آ...","t":5},
{"x":1328.1,"x2":1357.1,"y":372.2,"y2":394.5,"c":1.5},
{"x":1357.1,"x2":1369.1,"y":372.2,"y2":394.5,"c":2.9},
{"x":1328.1,"x2":1342.6,"y":394.5,"y2":428.5,"c":2.9},
{"x":1342.6,"x2":1357.1,"y":394.5,"y2":407.1,"c":2.9},
{"x":1342.6,"x2":1357.1,"y":407.1,"y2":418.2,"c":-0.5},
{"x":1342.6,"x2":1357.1,"y":418.2,"y2":428.5,"c":2.9},
{"x":1357.1,"x2":1369.1,"y":394.5,"y2":407.1,"c":-0.5},
{"x":1357.1,"x2":1369.1,"y":407.1,"y2":416.8,"c":2.9},
{"x":1357.1,"x2":1369.1,"y":416.8,"y2":428.5,"c":1.5},

{"x":1372.8,"x2":1425,"y":340,"y2":372.8,"c":-2.9,"s":"سيمرغ","t":5},
{"x":1425,"x2":1458.4,"y":340,"y2":372.8,"c":2.9,"s":"زك...","t":5},
{"x":1372.8,"x2":1399,"y":372.8,"y2":405.7,"c":-2.9,"s":"ز...","t":5},
{"x":1372.8,"x2":1399,"y":405.7,"y2":428.5,"c":-1.5},
{"x":1399,"x2":1423.6,"y":372.8,"y2":394.5,"c":-0.5},
{"x":1399,"x2":1423.6,"y":394.5,"y2":411.3,"c":0.6},
{"x":1399,"x2":1423.6,"y":411.3,"y2":428.5,"c":-2.9},
{"x":1423.6,"x2":1442.5,"y":372.8,"y2":394.5,"c":-1.5},
{"x":1423.6,"x2":1442.5,"y":394.5,"y2":412.6,"c":-1.5},
{"x":1423.6,"x2":1442.5,"y":412.6,"y2":428.5,"c":-0.5},
{"x":1442.5,"x2":1458.4,"y":372.8,"y2":394.5,"c":2.9},
{"x":1442.5,"x2":1458.4,"y":394.5,"y2":405.7,"c":-2.9},
{"x":1442.5,"x2":1458.4,"y":405.7,"y2":428.5,"c":2.9},

{"x":1462,"x2":1507.3,"y":340,"y2":397.3,"c":2.9,"s":"فاذر","t":5},
{"x":1507.3,"x2":1546.9,"y":340,"y2":397.3,"c":-2.9,"s":"چدن","t":5},
{"x":1462,"x2":1528.2,"y":397.3,"y2":428.5,"c":2.9,"s":"فاراك","t":5},
{"x":1528.2,"x2":1546.9,"y":397.3,"y2":412.6,"c":2.9},
{"x":1528.2,"x2":1538,"y":412.6,"y2":428.5,"c":-1.5},
{"x":1538,"x2":1546.9,"y":412.6,"y2":421,"c":-2.9},
{"x":1538,"x2":1546.9,"y":421,"y2":428.5,"c":2.9},

{"x":1257.5,"x2":1292.4,"y":452.5,"y2":508.3,"c":1.5,"s":"آپ","t":5},
{"x":1257.5,"x2":1292.4,"y":508.3,"y2":531.2,"c":-4.8},
{"x":1292.4,"x2":1320.3,"y":452.5,"y2":479.6,"c":-4.8},
{"x":1320.3,"x2":1338.5,"y":452.5,"y2":479.6,"c":2.9},
{"x":1292.4,"x2":1316.1,"y":479.6,"y2":496.3,"c":2.9},
{"x":1316.1,"x2":1338.5,"y":479.6,"y2":496.3,"c":0.6},
{"x":1292.4,"x2":1311.4,"y":496.3,"y2":514.5,"c":-2.9},
{"x":1311.4,"x2":1325.9,"y":496.3,"y2":514.5,"c":2.9},
{"x":1325.9,"x2":1338.5,"y":496.3,"y2":514.5,"c":0.6},
{"x":1292.4,"x2":1311.4,"y":514.5,"y2":531.2,"c":-2.9},
{"x":1311.4,"x2":1325.9,"y":514.5,"y2":522.9,"c":-2.9},
{"x":1311.4,"x2":1325.9,"y":522.9,"y2":531.2,"c":-1.5},
{"x":1325.9,"x2":1338.5,"y":514.5,"y2":522.9,"c":2.9},
{"x":1325.9,"x2":1338.5,"y":522.9,"y2":531.2,"c":-2.9},

{"x":1340.4,"x2":1418.5,"y":452.5,"y2":507.5,"c":-2.1,"s":"حفاري","t":6,"p":1},

{"x":1420.8,"x2":1470.4,"y":452.5,"y2":507.5,"c":2.9,"s":"بترانس","t":5},
{"x":1470.4,"x2":1494.7,"y":452.5,"y2":471.2,"c":2.9},
{"x":1470.4,"x2":1494.7,"y":471.2,"y2":483.8,"c":1.5},
{"x":1470.4,"x2":1494.7,"y":483.8,"y2":495,"c":2.9},
{"x":1470.4,"x2":1480.7,"y":495,"y2":507.5,"c":-2.9},
{"x":1480.7,"x2":1489.1,"y":495,"y2":507.5,"c":-2.9},
{"x":1489.1,"x2":1494.7,"y":495,"y2":507.5,"c":0.6},

{"x":1496.6,"x2":1546.9,"y":452.5,"y2":504.7,"c":-2.9,"s":"اخابر","t":5},
{"x":1496.6,"x2":1546.9,"y":504.7,"y2":507.5,"c":1.5},

{"x":1138.4,"x2":1190.6,"y":483.8,"y2":555,"c":2.9,"s":"كساك","t":6,"p":1},
{"x":1138.4,"x2":1190.6,"y":555,"y2":588.4,"c":2.9,"s":"كسرام","t":5},
{"x":1190.6,"x2":1225.5,"y":483.8,"y2":517.3,"c":-2.9,"s":"ك...","t":5},
{"x":1225.5,"x2":1254.2,"y":483.8,"y2":517.3,"c":-2.9,"s":"ك...","t":5},
{"x":1190.6,"x2":1225.5,"y":517.3,"y2":544.6,"c":-0.5,"s":"كايزد","t":5},
{"x":1225.5,"x2":1254.2,"y":517.3,"y2":544.6,"c":-0.5,"s":"ك...","t":5},
{"x":1190.6,"x2":1212.9,"y":544.6,"y2":567.5,"c":-1.5},
{"x":1212.9,"x2":1238,"y":544.6,"y2":561.9,"c":-2.9},
{"x":1238,"x2":1254.2,"y":544.6,"y2":561.9,"c":-2.9},
{"x":1212.9,"x2":1238,"y":561.9,"y2":575.9,"c":2.9},
{"x":1238,"x2":1254.2,"y":561.9,"y2":575.9,"c":-1.5},
{"x":1190.6,"x2":1212.9,"y":567.5,"y2":588.4,"c":-2.9},
{"x":1212.9,"x2":1238,"y":575.9,"y2":588.4,"c":-2.9},
{"x":1238,"x2":1254.2,"y":575.9,"y2":588.4,"c":-0.5},

{"x":1138.4,"x2":1208.7,"y":612.1,"y2":662.9,"c":-1.02,"s":"حكشتي","t":6,"p":1},
{"x":1138.4,"x2":1208.7,"y":662.9,"y2":709.8,"c":-1.5,"s":"حفارس","t":5},
{"x":1208.7,"x2":1235.2,"y":612.1,"y2":648.4,"c":-2.9,"s":"ح...","t":5},
{"x":1235.2,"x2":1254.2,"y":612.1,"y2":648.4,"c":-0.5},
{"x":1208.7,"x2":1231.6,"y":648.4,"y2":670.7,"c":-2.9},
{"x":1231.6,"x2":1254.2,"y":648.4,"y2":670.7,"c":-0.5},
{"x":1208.7,"x2":1231.6,"y":670.7,"y2":690.3,"c":2.9},
{"x":1231.6,"x2":1254.2,"y":670.7,"y2":681.9,"c":2.9},
{"x":1231.6,"x2":1254.2,"y":681.9,"y2":690.3,"c":2.9},
{"x":1208.7,"x2":1231.6,"y":690.3,"y2":709.8,"c":1.5},
{"x":1231.6,"x2":1240.8,"y":690.3,"y2":709.8,"c":2.9},
{"x":1240.8,"x2":1254.2,"y":690.3,"y2":709.8,"c":-3.8},

{"x":1257.5,"x2":1305,"y":554.9,"y2":623.3,"c":2.99,"s":"تبرقا","t":6,"p":1},
{"x":1305,"x2":1321.7,"y":554.9,"y2":575.9,"c":-1.5},
{"x":1321.7,"x2":1338.5,"y":554.9,"y2":575.9,"c":-0.5},
{"x":1305,"x2":1321.7,"y":575.9,"y2":595.4,"c":-2.9},
{"x":1321.7,"x2":1338.5,"y":575.9,"y2":595.4,"c":-2.9},
{"x":1305,"x2":1321.7,"y":595.4,"y2":612.1,"c":-1.5},
{"x":1321.7,"x2":1338.5,"y":595.4,"y2":612.1,"c":-2.9},
{"x":1305,"x2":1315,"y":612.1,"y2":623.3,"c":-2.9},
{"x":1315,"x2":1321.7,"y":612.1,"y2":623.3,"c":2.9},
{"x":1321.7,"x2":1330,"y":612.1,"y2":623.3,"c":0.6},
{"x":1330,"x2":1338.5,"y":612.1,"y2":623.3,"c":-2.9},

{"x":1257.5,"x2":1286.8,"y":647,"y2":709.8,"c":2.9,"s":"پلا...","t":5},
{"x":1286.8,"x2":1316.1,"y":647,"y2":681.9,"c":-1.5,"s":"پتاير","t":5},
{"x":1316.1,"x2":1338.5,"y":647,"y2":681.9,"c":2.9},
{"x":1286.8,"x2":1310.6,"y":681.9,"y2":709.8,"c":-0.5},
{"x":1310.6,"x2":1325.9,"y":681.9,"y2":709.8,"c":-2.9},
{"x":1325.9,"x2":1338.5,"y":681.9,"y2":709.8,"c":2.9},

{"x":1340.4,"x2":1368.3,"y":530.7,"y2":576,"c":-2.9,"s":"ها...","t":5},
{"x":1368.3,"x2":1395.7,"y":530.7,"y2":550.8,"c":-2.9},
{"x":1368.3,"x2":1385.9,"y":550.8,"y2":576,"c":0.6},
{"x":1385.9,"x2":1395.7,"y":550.8,"y2":576,"c":-1.5},

{"x":1340.4,"x2":1359.4,"y":599.6,"y2":624.7,"c":1.5},
{"x":1359.4,"x2":1380.3,"y":599.6,"y2":617.7,"c":-0.5},
{"x":1380.3,"x2":1395.7,"y":599.6,"y2":617.7,"c":2.9},
{"x":1340.4,"x2":1359.4,"y":624.7,"y2":645.6,"c":-2.9},
{"x":1359.4,"x2":1373.3,"y":617.7,"y2":631.7,"c":-1.5},
{"x":1373.3,"x2":1384,"y":617.7,"y2":631.7,"c":-2.9},
{"x":1384,"x2":1395.7,"y":617.7,"y2":631.7,"c":-1.5},
{"x":1359.4,"x2":1373.3,"y":631.7,"y2":645.6,"c":-0.5},
{"x":1373.3,"x2":1384,"y":631.7,"y2":645.6,"c":-1.5},
{"x":1384,"x2":1395.7,"y":631.7,"y2":645.6,"c":-0.5},

{"x":1340.4,"x2":1370.6,"y":669.3,"y2":693.1,"c":2.9},
{"x":1340.4,"x2":1370.6,"y":693.1,"y2":709.8,"c":-2.9},
{"x":1370.6,"x2":1395.7,"y":669.3,"y2":683.3,"c":-1.5},
{"x":1370.6,"x2":1384.5,"y":683.3,"y2":695.8,"c":-0.5},
{"x":1384.5,"x2":1395.7,"y":683.3,"y2":695.8,"c":0.6},
{"x":1370.6,"x2":1384.5,"y":695.8,"y2":709.8,"c":2.9},
{"x":1384.5,"x2":1395.7,"y":695.8,"y2":709.8,"c":0.6},

{"x":1397.9,"x2":1419.4,"y":530.7,"y2":553.5,"c":-1.5},
{"x":1397.9,"x2":1419.4,"y":553.5,"y2":572.5,"c":-0.5},
{"x":1419.4,"x2":1446.4,"y":530.7,"y2":545.2,"c":-1.5},
{"x":1419.4,"x2":1433.3,"y":545.2,"y2":559.1,"c":-1.5},
{"x":1433.3,"x2":1446.4,"y":545.2,"y2":559.1,"c":-2.9},
{"x":1419.4,"x2":1433.3,"y":559.1,"y2":572.5,"c":-1.5},
{"x":1433.3,"x2":1446.4,"y":559.1,"y2":572.5,"c":-2.9},

{"x":1448.7,"x2":1489.1,"y":530.7,"y2":572.5,"c":-1.5,"s":"ماديرا","t":5},
{"x":1489.1,"x2":1497.5,"y":530.7,"y2":572.5,"c":2.9},
{"x":1498.9,"x2":1528.2,"y":530.7,"y2":572.5,"c":-2.9,"s":"رم...","t":5},
{"x":1528.2,"x2":1546.9,"y":530.7,"y2":572.5,"c":2.9},

{"x":1397.9,"x2":1425.8,"y":595.4,"y2":623.9,"c":-2.9,"s":"ك...","t":5},
{"x":1425.8,"x2":1439.7,"y":595.4,"y2":623.9,"c":2.9},
{"x":1397.9,"x2":1417.4,"y":623.9,"y2":643,"c":-0.5},
{"x":1417.4,"x2":1436.1,"y":623.9,"y2":633.1,"c":-2.9},
{"x":1417.4,"x2":1436.1,"y":633.1,"y2":643,"c":2.9},
{"x":1436.1,"x2":1439.7,"y":623.9,"y2":643,"c":-1.5},

{"x":1442.6,"x2":1496.1,"y":595.4,"y2":614.5,"c":1.5},
{"x":1498.4,"x2":1517,"y":595.4,"y2":614.5,"c":2.9},
{"x":1517,"x2":1533.8,"y":595.4,"y2":614.5,"c":2.9},
{"x":1533.8,"x2":1546.9,"y":595.4,"y2":605.2,"c":-2.9},
{"x":1533.8,"x2":1546.9,"y":605.2,"y2":614.5,"c":0.6},

{"x":1397.9,"x2":1439.7,"y":666.5,"y2":690.3,"c":-2.9},
{"x":1397.9,"x2":1419.4,"y":690.3,"y2":709.8,"c":-2.9},
{"x":1419.4,"x2":1439.7,"y":690.3,"y2":701.4,"c":0.6},
{"x":1419.4,"x2":1439.7,"y":701.4,"y2":709.8,"c":2.9},

{"x":1442.6,"x2":1465.5,"y":637.2,"y2":664.6,"c":-0.6},
{"x":1465.5,"x2":1479.4,"y":637.2,"y2":664.6,"c":-0.9},
{"x":1482.7,"x2":1500.3,"y":637.2,"y2":662,"c":-0.5},
{"x":1500.3,"x2":1517,"y":637.2,"y2":654,"c":-2.9},
{"x":1500.3,"x2":1517,"y":654,"y2":662,"c":-4.8},
{"x":1519,"x2":1532.4,"y":637.2,"y2":662,"c":-1.5},
{"x":1532.4,"x2":1546.9,"y":637.2,"y2":651,"c":-2.9},
{"x":1532.4,"x2":1546.9,"y":651,"y2":662,"c":-3.8},
{"x":1442.6,"x2":1466.8,"y":687.5,"y2":709.8,"c":0.6},
{"x":1466.8,"x2":1479.4,"y":687.5,"y2":709.8,"c":-2.9},
{"x":1481.6,"x2":1505.9,"y":686.6,"y2":709.8,"c":2.9,"s":"يا...","t":5},
{"x":1507.8,"x2":1546.9,"y":685.2,"y2":689,"c":-4.8}
]
},
"layer":[
{"data":{"name":"sectors"},
 "mark":{"type":"rect","fill":"white","stroke":"#c4c4c4","strokeWidth":1},
 "encoding":{
  "x":{"field":"x","type":"quantitative","scale":{"domain":[0,1568],"nice":false,"zero":false},"axis":null},
  "x2":{"field":"x2"},
  "y":{"field":"y","type":"quantitative","scale":{"domain":[0,720],"nice":false,"zero":false,"reverse":true},"axis":null},
  "y2":{"field":"y2"}}},
{"data":{"name":"sectors"},
 "transform":[{"calculate":"(datum.x+datum.x2)/2","as":"cx"},{"calculate":"(datum.y+datum.yh)/2","as":"cy"}],
 "mark":{"type":"text","font":"DejaVu Sans","fontSize":13,"color":"#111111","baseline":"middle","align":"center"},
 "encoding":{
  "x":{"field":"cx","type":"quantitative"},
  "y":{"field":"cy","type":"quantitative"},
  "text":{"field":"h","type":"nominal"}}},
{"data":{"name":"cells"},
 "mark":{"type":"rect","stroke":"white","strokeWidth":1.2},
 "encoding":{
  "x":{"field":"x","type":"quantitative"},
  "x2":{"field":"x2"},
  "y":{"field":"y","type":"quantitative"},
  "y2":{"field":"y2"},
  "color":{"field":"c","type":"quantitative","legend":null,
   "scale":{"type":"threshold","domain":[-4.75,-3.5,-2,-1,0,1,2,4],"range":["#e6141e","#c8040f","#b0000e","#7a0008","#480003","#0c5a06","#1c8a0c","#25a80c","#40d420"]}}}},
{"data":{"name":"cells"},
 "transform":[{"filter":"datum.s"},
  {"calculate":"[33,27,21,18,13,7,12][datum.t-1]","as":"fs"},
  {"calculate":"datum.t == 6 ? 0.8 : 0.62","as":"k"},
  {"calculate":"(datum.x+datum.x2)/2","as":"cx"},
  {"calculate":"(datum.y+datum.y2)/2 + (datum.p ? (-datum.k*datum.fs + 0.03*datum.fs)/1.2117 : 0)","as":"cy"}],
 "mark":{"type":"text","font":"Open Sans, DejaVu Sans","color":"white","baseline":"middle","align":"center"},
 "encoding":{
  "x":{"field":"cx","type":"quantitative"},
  "y":{"field":"cy","type":"quantitative"},
  "text":{"field":"s","type":"nominal"},
  "size":{"field":"fs","type":"quantitative","scale":null,"legend":null}}},
{"data":{"name":"cells"},
 "transform":[{"filter":"datum.p"},
  {"calculate":"[33,27,21,18,13,7,12][datum.t-1]","as":"fs"},
  {"calculate":"datum.t == 6 ? 0.8 : 0.62","as":"k"},
  {"calculate":"datum.c + '%'","as":"pct"},
  {"calculate":"(datum.x+datum.x2)/2","as":"cx"},
  {"calculate":"(datum.y+datum.y2)/2 + (datum.k*datum.fs + 0.03*datum.fs)/1.2117","as":"cy"}],
 "mark":{"type":"text","font":"Open Sans","color":"white","baseline":"middle","align":"center"},
 "encoding":{
  "x":{"field":"cx","type":"quantitative"},
  "y":{"field":"cy","type":"quantitative"},
  "text":{"field":"pct","type":"nominal"},
  "size":{"field":"fs","type":"quantitative","scale":null,"legend":null}}}
]
}
